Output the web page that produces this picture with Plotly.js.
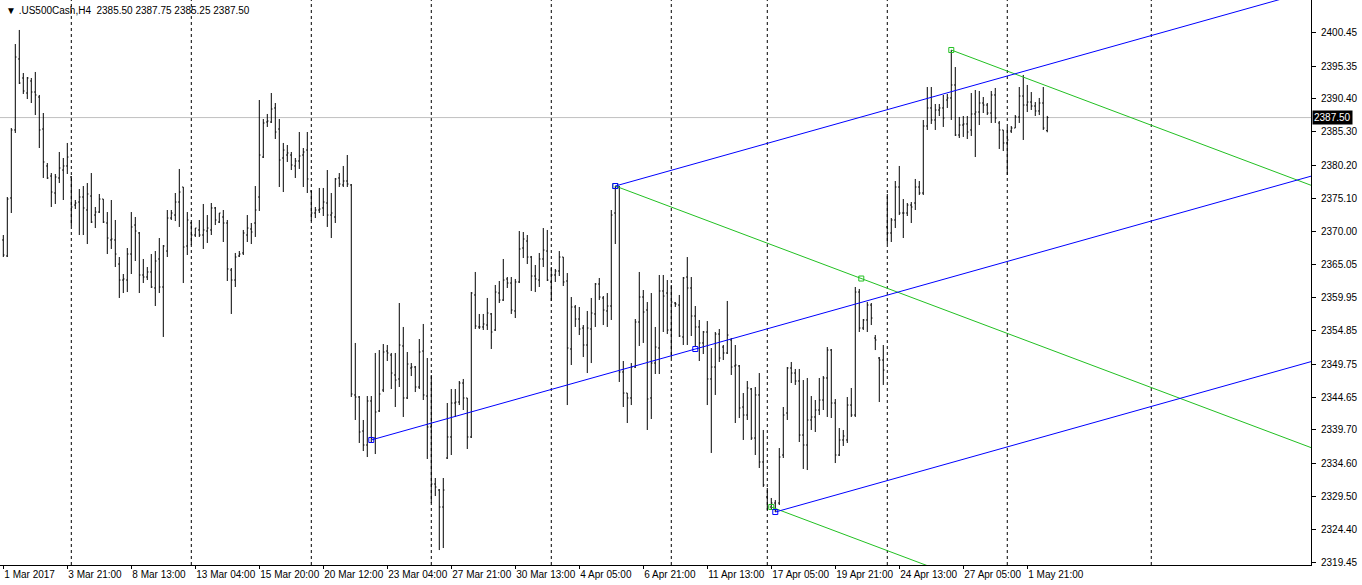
<!DOCTYPE html>
<html><head><meta charset="utf-8">
<script src="https://cdn.plot.ly/plotly-3.0.1.min.js"></script>
<style>html,body{margin:0;padding:0;background:#fff;}#chart{width:1362px;height:585px;}</style>
</head><body><div id="chart"></div>
<script>
const symbolTitle = ".US500Cash,H4";
const lastBar = [2385.50, 2387.75, 2385.25, 2387.50];

const opens = [2368.76,2366.31,2375.19,2385.60,2396.47,2393.56,2391.26,2393.10,2391.41,2390.65,2385.75,2380.09,2378.55,2375.95,2378.25,2379.47,2380.09,2378.40,2374.11,2374.57,2375.34,2373.35,2375.49,2372.58,2373.04,2375.03,2371.36,2368.76,2368.76,2365.08,2362.63,2362.63,2366.61,2371.05,2369.83,2363.40,2363.09,2363.86,2361.41,2365.85,2361.56,2367.07,2372.12,2372.58,2374.57,2376.87,2367.84,2371.36,2369.52,2370.29,2369.52,2370.13,2370.29,2373.66,2371.51,2372.28,2371.36,2364.16,2362.63,2366.31,2366.77,2369.52,2370.44,2371.36,2375.34,2381.46,2386.82,2386.82,2388.97,2385.75,2381.31,2381.77,2381.77,2380.09,2380.85,2381.77,2382.53,2376.26,2372.89,2373.35,2373.66,2374.42,2372.58,2372.28,2378.25,2377.18,2377.79,2377.18,2345.03,2344.72,2339.51,2337.37,2344.11,2338.44,2342.58,2345.79,2351.76,2351.15,2348.09,2347.48,2352.53,2344.57,2349.16,2349.31,2346.25,2351.76,2344.87,2340.13,2331.40,2330.48,2327.88,2335.38,2338.60,2343.80,2343.95,2346.86,2344.57,2338.60,2360.34,2355.44,2355.44,2355.74,2357.43,2354.98,2360.64,2359.57,2362.79,2362.17,2357.89,2362.33,2367.53,2368.60,2366.15,2363.24,2362.63,2365.85,2367.07,2362.33,2363.40,2364.01,2366.15,2362.48,2352.07,2358.50,2356.66,2355.28,2352.68,2355.13,2357.43,2362.02,2359.88,2357.89,2358.65,2372.89,2376.87,2348.55,2345.33,2344.57,2349.31,2356.20,2360.03,2358.04,2344.57,2349.92,2352.22,2360.95,2360.64,2354.98,2359.11,2358.80,2353.91,2363.09,2361.41,2357.12,2355.44,2352.99,2354.67,2347.48,2349.31,2354.36,2352.37,2351.46,2353.45,2349.47,2349.47,2343.19,2341.96,2345.94,2338.44,2345.03,2334.77,2329.41,2327.88,2328.49,2328.49,2335.84,2342.27,2349.16,2348.39,2347.17,2338.90,2337.37,2341.20,2341.66,2342.73,2344.26,2347.63,2351.91,2343.80,2335.84,2338.14,2338.14,2343.49,2341.96,2360.79,2355.28,2356.51,2358.80,2353.75,2350.69,2350.38,2370.75,2369.83,2371.82,2376.87,2372.89,2372.89,2374.11,2374.42,2376.87,2375.95,2386.21,2388.97,2387.13,2388.66,2388.97,2390.19,2390.50,2392.49,2384.83,2386.36,2386.52,2385.60,2388.05,2388.35,2389.73,2389.42,2388.20,2390.96,2386.67,2385.60,2383.61,2385.44,2385.90,2387.59,2390.80,2389.42,2389.88,2389.27,2388.51,2389.73,2385.50];
const highs = [2369.52,2375.34,2385.90,2398.76,2400.91,2394.32,2393.71,2393.56,2394.48,2390.96,2388.20,2380.54,2379.01,2378.86,2382.23,2381.31,2383.61,2378.55,2374.88,2376.56,2377.02,2377.48,2379.01,2373.81,2375.80,2375.03,2373.04,2374.88,2371.82,2366.15,2363.55,2367.53,2373.04,2372.28,2369.98,2365.85,2364.62,2366.61,2367.07,2369.06,2367.99,2373.35,2373.35,2375.95,2379.63,2376.87,2373.04,2371.51,2370.59,2371.82,2374.27,2372.58,2374.42,2373.81,2372.89,2373.35,2371.82,2364.47,2366.77,2367.07,2370.29,2372.58,2371.36,2377.02,2390.19,2387.28,2388.05,2391.26,2389.73,2387.28,2383.61,2383.30,2382.23,2381.31,2385.29,2382.84,2385.29,2376.26,2373.81,2376.72,2376.72,2379.47,2375.95,2378.25,2379.01,2380.09,2381.77,2377.33,2352.99,2344.87,2341.20,2344.87,2344.87,2351.46,2351.91,2352.83,2352.68,2351.46,2351.46,2359.11,2355.44,2351.61,2349.92,2349.47,2353.60,2355.90,2350.69,2348.09,2332.32,2330.63,2332.32,2343.80,2345.94,2345.94,2347.17,2347.48,2344.57,2360.79,2363.86,2357.43,2357.43,2359.88,2357.58,2361.87,2362.48,2365.85,2363.09,2363.09,2362.79,2370.13,2369.98,2369.52,2366.31,2364.93,2366.77,2370.59,2370.29,2364.62,2364.32,2367.07,2366.15,2363.70,2360.03,2358.80,2358.50,2355.74,2357.89,2359.88,2362.17,2362.94,2360.18,2360.64,2373.35,2377.02,2377.02,2350.23,2345.33,2349.92,2356.66,2363.86,2361.10,2359.26,2360.64,2355.44,2363.40,2363.40,2362.63,2361.87,2359.26,2360.34,2363.09,2366.15,2363.09,2358.65,2356.51,2354.83,2356.35,2352.22,2354.67,2355.13,2352.68,2359.42,2353.75,2352.68,2349.62,2345.33,2347.17,2346.10,2346.25,2348.39,2339.67,2330.79,2329.26,2328.94,2336.91,2343.19,2349.31,2350.08,2349.01,2349.01,2347.32,2347.63,2344.87,2344.26,2347.63,2347.93,2352.37,2352.07,2344.41,2339.97,2339.67,2344.72,2346.10,2361.56,2361.26,2356.66,2359.26,2359.11,2354.21,2350.84,2352.68,2375.80,2372.12,2377.79,2380.09,2375.03,2374.42,2374.57,2378.10,2377.79,2387.13,2392.18,2392.18,2389.58,2389.58,2390.96,2391.11,2397.84,2395.24,2387.59,2387.74,2387.74,2391.26,2391.72,2391.57,2390.65,2389.73,2391.57,2392.03,2386.97,2385.60,2386.06,2386.21,2387.89,2392.18,2394.02,2392.49,2391.41,2389.88,2390.50,2392.18,2387.75];
const lows = [2366.15,2366.15,2372.89,2385.14,2392.64,2391.11,2390.34,2389.73,2387.89,2382.84,2378.25,2378.10,2373.81,2374.27,2377.48,2374.88,2378.86,2370.90,2373.50,2369.52,2369.52,2368.14,2371.36,2370.59,2372.89,2371.36,2366.61,2367.38,2364.62,2359.88,2360.64,2360.79,2363.55,2365.54,2360.64,2362.17,2362.63,2361.41,2358.65,2360.64,2353.91,2366.15,2371.82,2371.66,2370.75,2362.17,2366.46,2367.99,2369.22,2369.22,2367.38,2368.30,2369.52,2371.05,2371.36,2368.45,2362.48,2357.43,2361.56,2366.15,2366.46,2368.45,2368.14,2369.22,2373.20,2381.31,2386.06,2386.67,2384.22,2376.87,2376.10,2380.70,2379.47,2378.25,2379.63,2376.87,2375.95,2371.66,2372.12,2372.89,2372.43,2370.75,2369.06,2371.36,2376.87,2376.87,2376.87,2344.72,2341.20,2337.68,2336.45,2335.53,2337.83,2335.99,2342.42,2345.48,2350.23,2345.94,2343.19,2346.25,2341.66,2344.41,2347.93,2345.48,2345.94,2344.26,2335.23,2328.49,2329.56,2321.29,2321.60,2335.23,2335.84,2341.66,2343.49,2342.73,2336.76,2338.44,2355.13,2355.13,2354.98,2354.98,2352.07,2354.83,2359.11,2359.42,2361.41,2357.43,2356.81,2362.17,2366.00,2365.08,2360.95,2360.79,2361.56,2364.62,2362.48,2359.42,2362.33,2363.24,2361.71,2343.49,2349.62,2355.44,2354.21,2350.84,2348.39,2349.92,2355.44,2359.57,2355.74,2355.44,2356.51,2368.14,2347.02,2343.19,2340.74,2343.49,2349.16,2352.53,2352.99,2339.67,2341.35,2348.24,2348.24,2354.67,2354.36,2350.69,2358.50,2353.91,2352.68,2352.68,2354.06,2352.37,2350.23,2351.30,2343.49,2336.15,2345.03,2350.08,2350.38,2351.30,2348.09,2340.74,2341.50,2338.14,2341.20,2338.14,2335.84,2333.85,2330.94,2327.42,2327.57,2327.11,2328.18,2335.38,2341.20,2346.86,2346.56,2337.83,2333.70,2333.54,2339.67,2339.36,2341.96,2342.73,2341.66,2341.50,2334.61,2335.69,2337.22,2337.68,2341.66,2341.66,2354.67,2354.98,2354.67,2355.74,2351.91,2343.95,2346.56,2368.14,2368.45,2370.59,2372.58,2369.06,2372.43,2371.36,2373.35,2375.65,2375.65,2385.60,2386.52,2385.60,2387.74,2386.06,2388.97,2387.13,2384.68,2384.37,2384.53,2384.22,2384.68,2381.46,2386.36,2388.20,2387.89,2386.67,2386.67,2382.69,2382.38,2378.71,2385.14,2385.90,2386.67,2384.07,2388.35,2388.66,2387.74,2387.89,2385.60,2385.25];
const closes = [2366.46,2375.03,2385.60,2396.77,2392.79,2391.57,2393.56,2391.41,2390.96,2385.60,2380.70,2378.25,2376.10,2378.40,2379.78,2380.09,2381.46,2373.81,2374.42,2375.34,2373.66,2375.80,2371.51,2373.04,2375.03,2371.51,2369.06,2368.91,2366.61,2362.63,2362.79,2366.61,2370.75,2370.13,2363.40,2363.09,2363.86,2361.56,2365.54,2361.56,2367.84,2372.12,2372.89,2374.57,2376.10,2367.68,2371.82,2369.52,2370.59,2369.52,2370.29,2370.59,2373.66,2371.82,2372.89,2371.36,2364.32,2362.63,2366.15,2366.61,2369.83,2370.59,2369.98,2373.35,2381.77,2386.67,2386.97,2388.81,2385.29,2381.00,2382.53,2382.08,2380.24,2380.85,2381.62,2382.23,2378.10,2372.89,2373.35,2373.50,2374.57,2372.58,2372.89,2378.10,2377.33,2377.79,2377.33,2345.18,2344.72,2339.36,2337.37,2344.11,2338.44,2342.42,2345.18,2351.61,2351.46,2348.39,2347.32,2352.68,2344.57,2349.77,2349.31,2346.25,2351.61,2345.03,2340.13,2331.40,2330.94,2327.88,2330.48,2338.60,2343.80,2343.95,2346.86,2344.57,2338.60,2360.64,2355.59,2355.44,2355.90,2357.58,2354.67,2360.79,2359.57,2362.63,2362.17,2358.04,2362.33,2367.38,2368.91,2366.15,2363.24,2362.79,2365.85,2367.22,2362.63,2363.40,2364.01,2366.15,2362.33,2352.22,2358.50,2356.66,2355.13,2352.68,2355.28,2357.58,2362.02,2360.03,2358.04,2358.65,2372.58,2376.87,2348.55,2345.33,2344.57,2349.31,2356.20,2360.03,2357.73,2344.41,2349.92,2352.37,2360.95,2360.18,2354.98,2359.26,2358.96,2354.06,2362.94,2361.41,2357.12,2355.44,2352.99,2354.67,2347.48,2349.31,2354.36,2350.69,2351.46,2354.21,2349.31,2349.62,2343.04,2341.96,2346.10,2338.44,2345.03,2334.77,2331.25,2327.88,2328.49,2327.42,2335.53,2341.96,2349.16,2348.39,2347.17,2338.90,2337.37,2341.20,2341.66,2342.73,2344.26,2347.63,2351.91,2343.80,2335.84,2338.14,2338.75,2343.49,2341.96,2360.79,2355.28,2356.51,2358.80,2356.81,2353.45,2350.38,2348.85,2369.83,2371.82,2376.87,2372.89,2372.89,2374.11,2373.81,2376.87,2375.95,2386.21,2388.97,2387.13,2388.66,2388.97,2387.43,2390.50,2392.49,2384.83,2386.36,2386.52,2385.29,2388.05,2388.35,2389.73,2389.42,2388.20,2390.96,2387.43,2385.60,2383.61,2384.07,2385.90,2387.59,2390.80,2389.42,2389.88,2389.27,2388.51,2389.73,2385.90,2387.50];

const xTickIdx = [0,16,32,48,64,80,96,112,128,144,160,176,192,208,224,240,256];
const xTickText = ["1 Mar 2017","3 Mar 21:00","8 Mar 13:00","13 Mar 04:00","15 Mar 20:00","20 Mar 12:00","23 Mar 04:00","27 Mar 21:00","30 Mar 13:00","4 Apr 05:00","6 Apr 21:00","11 Apr 13:00","17 Apr 05:00","19 Apr 21:00","24 Apr 13:00","27 Apr 05:00","1 May 21:00"];
const yTickVals = [2400.45,2395.35,2390.40,2385.30,2380.20,2375.10,2370.00,2365.05,2359.95,2354.85,2349.75,2344.65,2339.70,2334.60,2329.50,2324.40,2319.45];
const weekSeparators = [17,47,77,107,137,167,191,221,251,287];

// Andrews pitchfork anchors (bar index, price)
const blueForkX = [92,153,193];
const blueForkY = [2338.14,2377.02,2327.11];
const greenForkX = [153,237,192];
const greenForkY = [2377.02,2397.84,2327.88];

const xMin = -0.825, xMax = 326.93, yMin = 2319.0, yMax = 2405.5;
const idx = opens.map((_, i) => i);

function forkTraces(X, Y, color) {
  const mx = (X[1] + X[2]) / 2, my = (Y[1] + Y[2]) / 2;
  const slope = (my - Y[0]) / (mx - X[0]);
  const end = xMax + 5;
  const tr = [];
  for (let k = 0; k < 3; k++) {
    tr.push({type:'scatter', mode:'lines', x:[X[k], end], y:[Y[k], Y[k] + slope * (end - X[k])],
      line:{color:color, width:1}, hoverinfo:'skip', showlegend:false});
  }
  tr.push({type:'scatter', mode:'markers', x:[X[0], X[1], X[2], mx], y:[Y[0], Y[1], Y[2], my], cliponaxis:false,
    marker:{symbol:'square-open', size:5, color:color, line:{width:1, color:color}},
    hoverinfo:'skip', showlegend:false});
  return tr;
}

const traces = [
  {type:'ohlc', x:idx, open:opens, high:highs, low:lows, close:closes,
   increasing:{line:{color:'#000000', width:1}}, decreasing:{line:{color:'#000000', width:1}},
   tickwidth:0.3, hoverinfo:'skip', showlegend:false}
].concat(forkTraces(greenForkX, greenForkY, '#22C022'))
 .concat(forkTraces(blueForkX, blueForkY, '#0000FF'));

const shapes = weekSeparators.map(s => ({type:'line', xref:'x', yref:'paper', x0:s, x1:s, y0:0, y1:1,
  line:{color:'#000000', width:1, dash:'3px,3px'}, layer:'below'}));
shapes.push({type:'line', xref:'paper', yref:'y', x0:0, x1:1, y0:lastBar[3], y1:lastBar[3],
  line:{color:'#C0C0C0', width:1}, layer:'below'});

const fnt = {family:'"Liberation Sans", Arial, sans-serif', size:10, color:'#000000'};

const layout = {
  width:1362, height:585,
  margin:{l:0, r:51, t:0, b:20, pad:0},
  paper_bgcolor:'#FFFFFF', plot_bgcolor:'#FFFFFF',
  font:fnt,
  showlegend:false,
  xaxis:{type:'linear', range:[xMin, xMax], rangeslider:{visible:false},
    tickmode:'array', tickvals:xTickIdx, ticktext:xTickText, ticklabelposition:'outside right',
    tickangle:0, automargin:false,
    ticks:'outside', ticklen:3, tickcolor:'#000', showgrid:false, zeroline:false,
    showline:true, linecolor:'#000', linewidth:1, mirror:false, tickfont:fnt, fixedrange:true},
  yaxis:{range:[yMin, yMax], side:'right', tickmode:'array', tickvals:yTickVals, automargin:false,
    ticktext:yTickVals.map(v => v.toFixed(2)), ticks:'outside', ticklen:4, tickcolor:'#000',
    ticklabelstandoff:3,
    showgrid:false, zeroline:false, showline:true, linecolor:'#000', linewidth:1, tickfont:fnt, fixedrange:true},
  shapes:shapes,
  annotations:[
    {xref:'paper', yref:'paper', x:0, y:1, xanchor:'left', yanchor:'top', xshift:4, yshift:-3,
     text:'\u25BC ' + symbolTitle + '  ' + lastBar.map(v => v.toFixed(2)).join(' '),
     showarrow:false, font:fnt, align:'left'},
    {xref:'paper', yref:'y', x:1, y:lastBar[3], xanchor:'left', yanchor:'middle', xshift:1,
     text:lastBar[3].toFixed(2), showarrow:false, bgcolor:'#000000', borderpad:1,
     font:{family:fnt.family, size:10, color:'#FFFFFF'}}
  ]
};

Plotly.newPlot('chart', traces, layout, {displayModeBar:false, staticPlot:true});
</script>
</body></html>
